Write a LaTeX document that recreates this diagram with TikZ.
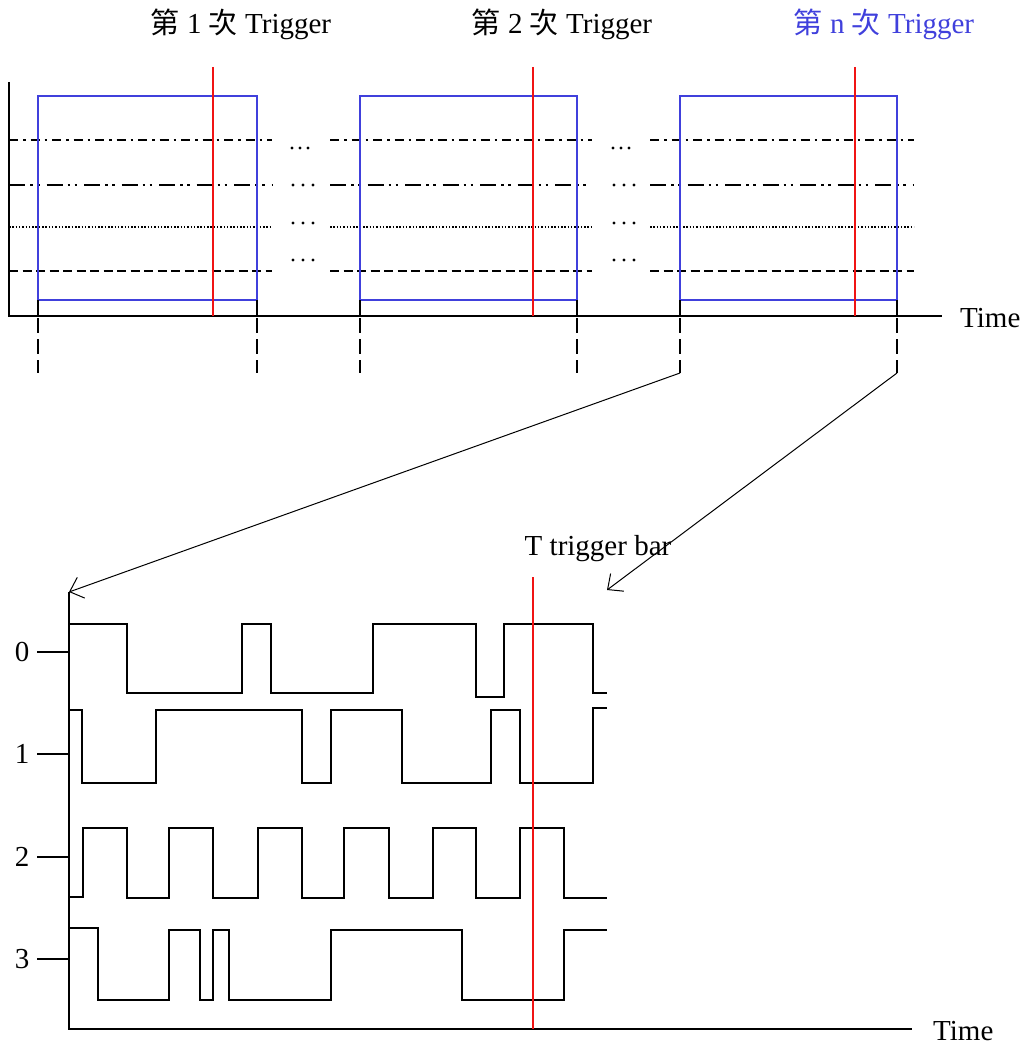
\documentclass[tikz,border=0pt]{standalone}
\usepackage{fontspec}
\setmainfont{Liberation Serif}
\newfontfamily\cjk{Noto Sans CJK TC}
\usetikzlibrary{arrows.meta}
\definecolor{boxblue}{RGB}{64,64,220}
\definecolor{barred}{RGB}{240,20,20}
\tikzset{
  ln/.style={line width=1.5pt,black},
  wave/.style={line width=1.6pt,black,line join=miter},
  bluebox/.style={line width=1.8pt,boxblue},
  redbar/.style={line width=2pt,barred},
  sigA/.style={line width=1.6pt,dash pattern=on 9pt off 5pt on 2.5pt off 5pt},
  sigB/.style={line width=1.6pt,dash pattern=on 16pt off 5pt on 2.5pt off 4.5pt on 2.5pt off 7pt},
  sigC/.style={line width=1.3pt,dash pattern=on 1.5pt off 1.8pt},
  sigD/.style={line width=1.6pt,dash pattern=on 9pt off 4.5pt},
  guide/.style={line width=1.5pt,dash pattern=on 15pt off 6pt},
  zoomarrow/.style={line width=1pt,-{Straight Barb[length=12pt,width=22pt,line width=1pt]}},
  lbl/.style={font=\fontsize{29}{34}\selectfont,inner sep=0pt},
  dotmark/.style={fill=black,draw=none},
}
\begin{document}
\begin{tikzpicture}[x=1pt,y=-1pt]
\useasboundingbox (0,0) rectangle (1026,1046);
% ---------- top section ----------
\coordinate (yt) at (9,82);
\coordinate (o1) at (9,316);
\coordinate (xe1) at (942,316);
\draw[ln] (yt) -- (o1) -- (xe1);
\node[lbl,anchor=west] (time1) at (960,318) {Time};

% signal lines, three blocks
\foreach \a/\b in {9/272,330/592,650/914}{
  \draw[sigA] (\a,140) -- (\b,140);
  \draw[sigB] (\a,185) -- (\b,185);
  \draw[sigC] (\a,227) -- (\b,227);
  \draw[sigD] (\a,271) -- (\b,271);
}
% dots in gaps
\foreach \g in {292,613}{
  \foreach \i in {0,1,2}{
    \fill[dotmark] (\g+8*\i,148) circle (1.6);
    \fill[dotmark] (\g+1+10*\i,185) circle (1.6);
    \fill[dotmark] (\g+1+10*\i,223) circle (1.6);
    \fill[dotmark] (\g+1+10*\i,260) circle (1.6);
  }
}
% boxes
\foreach \l/\r/\k in {38/257/1,360/577/2,680/897/3}{
  \coordinate (bl\k) at (\l,300);
  \coordinate (br\k) at (\r,300);
  \coordinate (gl\k) at (\l,373);
  \coordinate (gr\k) at (\r,373);
  \draw[bluebox] (\l,300) -- (\l,96) -- (\r,96) -- (\r,300) -- cycle;
  \draw[ln] (\l,300) -- (\l,316);
  \draw[ln] (\r,300) -- (\r,316);
  \draw[guide] (\l,318) -- (gl\k);
  \draw[guide] (\r,318) -- (gr\k);
}
% red trigger bars
\foreach \x in {213,533,855}{
  \draw[redbar] (\x,67) -- (\x,316);
}
% titles
\node[lbl] (t1) at (241,24) {{\cjk 第} 1 {\cjk 次} Trigger};
\node[lbl] (t2) at (562,24) {{\cjk 第} 2 {\cjk 次} Trigger};
\node[lbl,text=boxblue] (tn) at (884,24) {{\cjk 第} n {\cjk 次} Trigger};

% ---------- bottom section ----------
\coordinate (yt2) at (69,592);
\coordinate (o2) at (69,1029);
\coordinate (xe2) at (912,1029);
\coordinate (tip2) at (607,590);
\draw[ln] (yt2) -- (o2) -- (xe2);
\node[lbl,anchor=west] (time2) at (933,1031) {Time};

\draw[zoomarrow] (gl3) -- (yt2);
\draw[zoomarrow] (gr3) -- (tip2);

% ticks and labels
\foreach \y/\t in {652/0,754/1,857/2,959/3}{
  \draw[ln] (37,\y) -- (69,\y);
  \node[lbl] at (22,\y) {\t};
}
% waveforms
\draw[wave] (69,624) -- (127,624) -- (127,693) -- (242,693) -- (242,624) -- (271,624) -- (271,693)
  -- (373,693) -- (373,624) -- (476,624) -- (476,697) -- (504,697) -- (504,624) -- (593,624)
  -- (593,693) -- (607,693);
\draw[wave] (69,710) -- (82,710) -- (82,783) -- (156,783) -- (156,710) -- (302,710) -- (302,783)
  -- (331,783) -- (331,710) -- (402,710) -- (402,783) -- (491,783) -- (491,710) -- (520,710)
  -- (520,783) -- (593,783) -- (593,708) -- (607,708);
\draw[wave] (69,897) -- (83,897) -- (83,828) -- (127,828) -- (127,898) -- (169,898) -- (169,828)
  -- (213,828) -- (213,898) -- (258,898) -- (258,828) -- (302,828) -- (302,898) -- (344,898)
  -- (344,828) -- (389,828) -- (389,898) -- (433,898) -- (433,828) -- (476,828) -- (476,898)
  -- (520,898) -- (520,828) -- (564,828) -- (564,898) -- (607,898);
\draw[wave] (69,928) -- (98,928) -- (98,1000) -- (169,1000) -- (169,930) -- (200,930) -- (200,1000)
  -- (213,1000) -- (213,930) -- (229,930) -- (229,1000) -- (331,1000) -- (331,930) -- (462,930)
  -- (462,1000) -- (564,1000) -- (564,930) -- (607,930);
% trigger bar
\draw[redbar] (533,577) -- (533,1029);
\node[lbl] (tbar) at (598,549) {T trigger bar};
\end{tikzpicture}
\end{document}
